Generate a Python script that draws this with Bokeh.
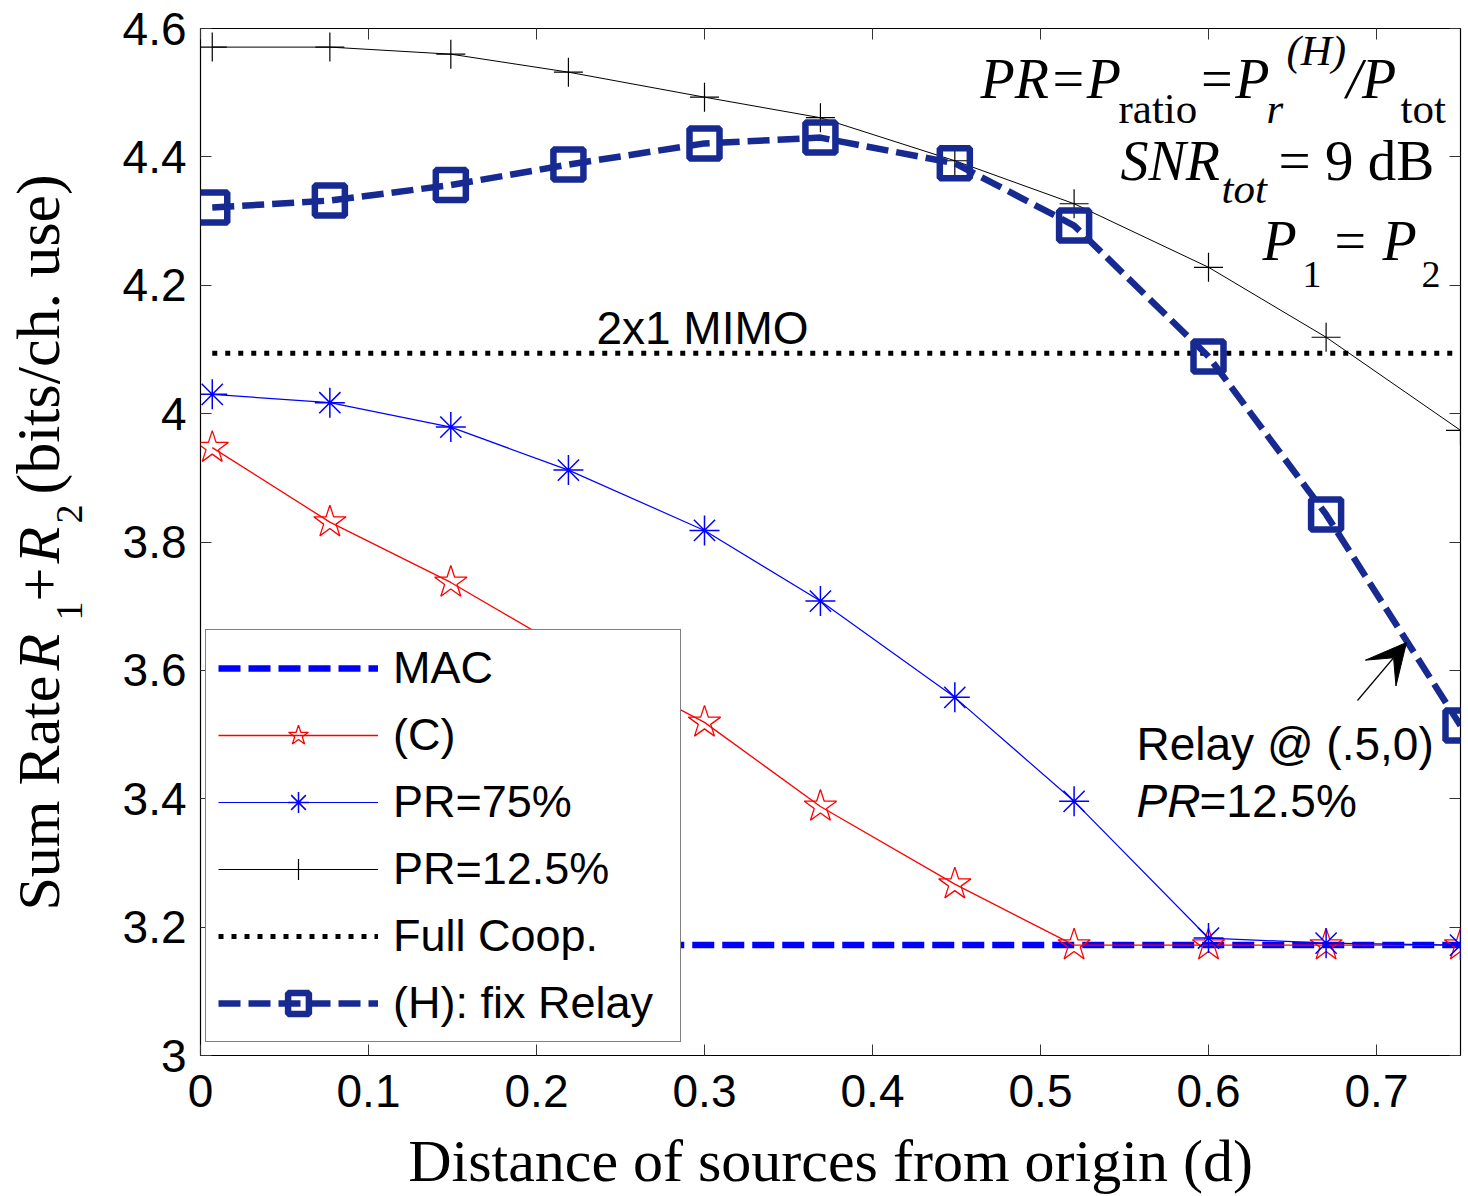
import numpy as np
from bokeh.plotting import figure
from bokeh.layouts import row
from bokeh.models import (Range1d, LinearAxis, FixedTicker, Legend, LegendItem,
                          Label, Arrow, VeeHead)
from bokeh.embed import file_html
from bokeh.resources import INLINE

# ---------------- data ----------------
d = [0.007, 0.077, 0.149, 0.219, 0.300, 0.369, 0.449, 0.520, 0.600, 0.670, 0.750]
mac = [3.172, 3.172, 3.172, 3.172, 3.172, 3.172, 3.172, 3.172, 3.172, 3.172, 3.172]
scheme_c = [3.947, 3.831, 3.737, 3.630, 3.519, 3.388, 3.267, 3.172, 3.172, 3.172, 3.172]
pr_75 = [4.030, 4.017, 3.979, 3.912, 3.818, 3.708, 3.558, 3.396, 3.183, 3.175, 3.172]
pr_125 = [4.571, 4.571, 4.560, 4.532, 4.493, 4.461, 4.394, 4.327, 4.228, 4.119, 3.974]
full_coop = [4.094, 4.094, 4.094, 4.094, 4.094, 4.094, 4.094, 4.094, 4.094, 4.094, 4.094]
fix_relay = [4.321, 4.332, 4.356, 4.388, 4.421, 4.430, 4.390, 4.293, 4.089, 3.843, 3.514]

x_ticks = [0, 0.1, 0.2, 0.3, 0.4, 0.5, 0.6, 0.7]
x_tick_labels = ["0", "0.1", "0.2", "0.3", "0.4", "0.5", "0.6", "0.7"]
y_ticks = [3, 3.2, 3.4, 3.6, 3.8, 4, 4.2, 4.4, 4.6]
y_tick_labels = ["3", "3.2", "3.4", "3.6", "3.8", "4", "4.2", "4.4", "4.6"]

legend_labels = ["MAC", "(C)", "PR=75%", "PR=12.5%", "Full Coop.", "(H): fix Relay"]

# ---------------- styling ----------------
SANS = "Liberation Sans"
SERIF = "Liberation Serif"
NAVY = "#172a91"
BASE = 0.355          # label anchor -> alphabetic baseline shift (em)

LW = 100              # width of the strip holding the y-axis title
X0, X1, Y0, Y1 = 0.0, 0.75, 3.0, 4.6
FL, FR, FT, FB = 200, 1460, 28, 1055   # frame edges in page pixels


def X(px):
    return X0 + (px - FL) / (FR - FL) * (X1 - X0)


def Y(py):
    return Y1 - (py - FT) / (FB - FT) * (Y1 - Y0)


p = figure(frame_width=FR - FL, frame_height=FB - FT,
           x_range=Range1d(X0, X1), y_range=Range1d(Y0, Y1),
           output_backend="svg", toolbar_location=None,
           min_border_left=FL - LW, min_border_right=6, min_border_top=FT,
           min_border_bottom=100,
           background_fill_color="white", border_fill_color="white",
           outline_line_color="black", outline_line_width=1.2)
p.grid.visible = False

# axes
for ax, ticks, labels in ((p.xaxis[0], x_ticks, x_tick_labels), (p.yaxis[0], y_ticks, y_tick_labels)):
    ax.ticker = FixedTicker(ticks=ticks)
    ax.major_label_overrides = {t: l for t, l in zip(ticks, labels)}
    ax.major_tick_in = 11
    ax.major_tick_out = 0
    ax.minor_tick_line_color = None
    ax.axis_line_color = None
    ax.major_tick_line_color = "#333333"
    ax.major_label_text_font = SANS
    ax.major_label_text_font_size = "46px"
    ax.major_label_text_color = "black"

p.xaxis.major_label_standoff = 19
p.yaxis.major_label_standoff = 14
p.xaxis.axis_label = "Distance of sources from origin (d)"
p.xaxis.axis_label_text_font = SERIF
p.xaxis.axis_label_text_font_size = "60px"
p.xaxis.axis_label_text_font_style = "normal"
p.xaxis.axis_label_text_color = "black"
p.xaxis.axis_label_standoff = 18

top_ax = LinearAxis(ticker=FixedTicker(ticks=x_ticks), major_tick_in=11, major_tick_out=0,
                    minor_tick_line_color=None, axis_line_color=None,
                    major_tick_line_color="#333333",
                    major_label_text_color=None, major_label_text_font_size="1px",
                    major_label_standoff=0)
right_ax = LinearAxis(ticker=FixedTicker(ticks=y_ticks), major_tick_in=11, major_tick_out=0,
                      minor_tick_line_color=None, axis_line_color=None,
                      major_tick_line_color="#333333",
                      major_label_text_color=None, major_label_text_font_size="1px",
                      major_label_standoff=0)
p.add_layout(top_ax, "above")
p.add_layout(right_ax, "right")

# ---------------- series ----------------
r_mac = p.line(d, mac, line_color="#0000ff", line_width=6.5, line_dash="22 8")

r_c_line = p.line(d, scheme_c, line_color="#ff0000", line_width=1.3)
r_c_mk = p.scatter(d, scheme_c, marker="star", size=34, fill_color=None,
                   line_color="#ff0000", line_width=1.3)

r_75_line = p.line(d, pr_75, line_color="#0000ff", line_width=1.2)
r_75_mk = p.scatter(d, pr_75, marker="asterisk", size=30, line_color="#0000ff", line_width=1.5)

r_125_line = p.line(d, pr_125, line_color="black", line_width=1.0)
r_125_mk = p.scatter(d, pr_125, marker="cross", size=29, line_color="black", line_width=1.2)

r_fc = p.line(d, full_coop, line_color="black", line_width=5, line_dash="5 8")

r_h_line = p.line(d, fix_relay, line_color=NAVY, line_width=6.5, line_dash="22 8")
r_h_mk = p.scatter(d, fix_relay, marker="square", size=30, fill_color=None,
                   line_color=NAVY, line_width=6.5)

legend = Legend(items=[
    LegendItem(label=legend_labels[0], renderers=[r_mac]),
    LegendItem(label=legend_labels[1], renderers=[r_c_line, r_c_mk]),
    LegendItem(label=legend_labels[2], renderers=[r_75_line, r_75_mk]),
    LegendItem(label=legend_labels[3], renderers=[r_125_line, r_125_mk]),
    LegendItem(label=legend_labels[4], renderers=[r_fc]),
    LegendItem(label=legend_labels[5], renderers=[r_h_line, r_h_mk]),
], location=(5, 13))
legend.label_text_font = SANS
legend.label_text_font_size = "45px"
legend.label_text_color = "black"
legend.glyph_width = 160
legend.glyph_height = 52
legend.label_height = 52
legend.label_width = 275
legend.label_standoff = 15
legend.spacing = 15
legend.padding = 12
legend.margin = 0
legend.border_line_color = "black"
legend.border_line_width = 1.2
legend.background_fill_color = "white"
legend.background_fill_alpha = 1.0
p.add_layout(legend)


# ---------------- annotations ----------------
def txt(px, py, s, size, font=SERIF, style="normal", align="left"):
    """Text whose alphabetic baseline sits at page pixel (px, py)."""
    p.add_layout(Label(x=X(px), y=Y(py - BASE * size), text=s, text_font=font,
                       text_font_size=f"{size}px", text_font_style=style,
                       text_color="black", text_baseline="alphabetic",
                       text_align=align))


# top right formula block
txt(980, 98, "PR=P", 56, style="italic")
txt(1118, 123, "ratio", 43)
txt(1197, 98, "=P", 56, style="italic")
txt(1266, 123, "r", 43, style="italic")
txt(1286, 65, "(H)", 43, style="italic")
txt(1346, 98, "/P", 56, style="italic")
txt(1400, 123, "tot", 43)

txt(1120, 180, "SNR", 56, style="italic")
txt(1221, 203, "tot", 43, style="italic")
txt(1278, 180, "= 9 dB", 57)

txt(1262, 260, "P", 56, style="italic")
txt(1302, 287, "1", 38)
txt(1334, 260, "=", 56)
txt(1382, 260, "P", 56, style="italic")
txt(1421, 287, "2", 38)

# 2x1 MIMO label
txt(702, 344, "2x1 MIMO", 46, font=SANS, align="center")

# relay annotation
txt(1136, 760, "Relay @ (.5,0)", 46, font=SANS)
txt(1136, 817, "PR", 46, font=SANS, style="italic")
txt(1199, 817, "=12.5%", 46, font=SANS)
p.add_layout(Arrow(x_start=X(1357), y_start=Y(700), x_end=X(1406), y_end=Y(642),
                   line_color="black", line_width=1.2,
                   end=VeeHead(size=40, fill_color="black", line_color="black")))

# ---------------- y-axis title strip (rotated, with sub-scripts) ----------------
# The row layout aligns this strip's frame with the main frame (page y FT..FB);
# its y data value is minus the page pixel row.
ylab = figure(width=LW, frame_height=FB - FT, x_range=Range1d(0, LW), y_range=Range1d(-FB, -FT),
              output_backend="svg", toolbar_location=None,
              x_axis_type=None, y_axis_type=None,
              min_border=0, min_border_left=0, min_border_right=0,
              min_border_top=FT, min_border_bottom=100,
              outline_line_color=None, background_fill_color="white",
              border_fill_color="white")
A = np.pi / 2


def vtxt(bx, py, s, size, style="normal"):
    """Vertical text reading upwards; baseline at page x = bx, starting at page y = py."""
    ylab.add_layout(Label(x=bx - BASE * size, y=-py, text=s, text_font=SERIF,
                          text_font_size=f"{size}px", text_font_style=style,
                          text_color="black", text_baseline="alphabetic",
                          text_align="left", angle=A))


vtxt(60, 910, "Sum Rate", 60)
vtxt(60, 670, "R", 60, style="italic")
vtxt(82, 620, "1", 38)
vtxt(60, 601, "+", 60)
vtxt(60, 563, "R", 60, style="italic")
vtxt(82, 523, "2", 38)
vtxt(60, 494, "(bits/ch. use)", 62)

layout = row(ylab, p, spacing=0)
open("out.html", "w").write(file_html(layout, INLINE))
